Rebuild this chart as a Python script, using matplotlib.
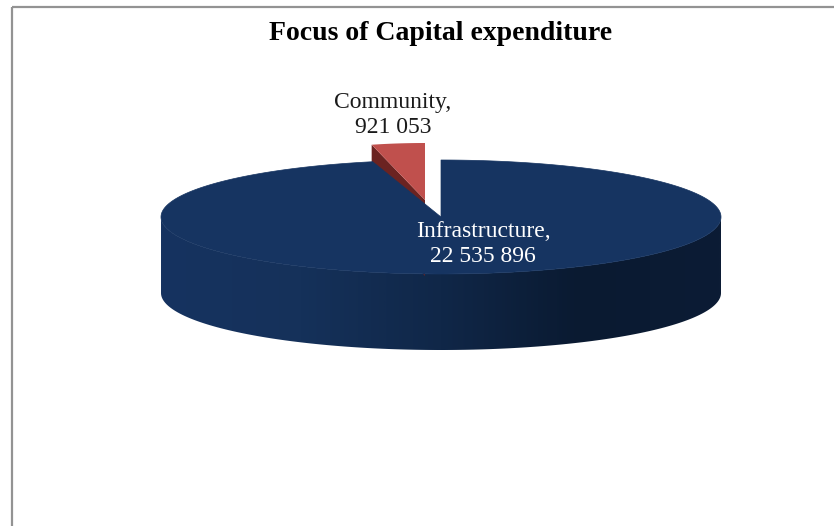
import numpy as np
import matplotlib.pyplot as plt
from matplotlib.patches import Polygon, Rectangle
from matplotlib.colors import LinearSegmentedColormap

labels = ['Infrastructure', 'Community']
values = [22535896, 921053]
value_text = ['22 535 896', '921 053']

top_colors = ['#163461', '#c0504d']
cut_colors = ['#0f2546', '#6b2321']

# pie layout (pixel-like axes units)
cx, cy = 441, 217
a, b = 280, 57
depth = 76
# the pulled-out slice sits higher and looks narrower in perspective
pull_dx, pull_dy = -16, -17
pull_squeeze = 0.78

plt.rcParams['font.family'] = ['Liberation Serif', 'DejaVu Serif']

fig = plt.figure(figsize=(8.34, 5.26), dpi=100)
ax = fig.add_axes([0, 0, 1, 1])
ax.set_xlim(0, 834)
ax.set_ylim(526, 0)
ax.axis('off')

# chart frame
ax.add_patch(Rectangle((12, 7), 840, 530, fill=False, edgecolor='#939393', lw=1.6))


def ell(x0, y0, ang, sx=1.0):
    t = np.radians(ang)
    return np.column_stack([x0 + a * sx * np.cos(t), y0 - b * np.sin(t)])


fracs = np.array(values, dtype=float) / sum(values)
# Community starts at 12 o'clock and runs counter-clockwise
comm_start = 90.0
comm_end = comm_start + 360 * fracs[1]
spans = {1: (comm_start, comm_end), 0: (comm_end, comm_start + 360)}

# pulled-out Community slice (behind the main slice)
s, e = spans[1]
ox, oy = cx + pull_dx, cy + pull_dy
p_end = ell(ox, oy, e, pull_squeeze)[0]
cut = np.array([[ox, oy], p_end, p_end + [0, depth], [ox, oy + depth]])
ax.add_patch(Polygon(cut, closed=True, facecolor=cut_colors[1], edgecolor='none'))
arc = ell(ox, oy, np.linspace(s, e, 30), pull_squeeze)
ax.add_patch(Polygon(np.vstack([[ox, oy], arc]), closed=True,
                     facecolor=top_colors[1], edgecolor='none'))

# side wall of the main slice with a left-to-right shading
ang = np.linspace(180, 360, 200)
upper = ell(cx, cy, ang)
lower = upper[::-1] + [0, depth]
side = Polygon(np.vstack([upper, lower]), closed=True, facecolor='none', edgecolor='none')
ax.add_patch(side)
shade = LinearSegmentedColormap.from_list(
    'side', ['#163360', '#15315a', '#102748', '#0a1a31', '#0c1c35'])
grad = np.linspace(0, 1, 400).reshape(1, -1)
im = ax.imshow(grad, cmap=shade, aspect='auto',
               extent=[cx - a, cx + a, cy + b + depth + 2, cy - 2],
               interpolation='bilinear')
im.set_clip_path(side)

# top face of the main slice
s, e = spans[0]
arc = ell(cx, cy, np.linspace(s, e, 400))
ax.add_patch(Polygon(np.vstack([[cx, cy], arc]), closed=True,
                     facecolor=top_colors[0], edgecolor=top_colors[0], lw=0.5))

# labels
ax.text(441, 33, 'Focus of Capital expenditure', ha='center', va='center',
        fontsize=20, fontweight='bold', color='black')
ax.text(393, 115, f'{labels[1]},\n{value_text[1]}', ha='center', va='center',
        fontsize=17, color='#1a1a1a', linespacing=1.3)
ax.text(483, 244, f'{labels[0]},\n{value_text[0]}', ha='center', va='center',
        fontsize=17, color='white', linespacing=1.3)

fig.savefig('out.png', dpi=100)
